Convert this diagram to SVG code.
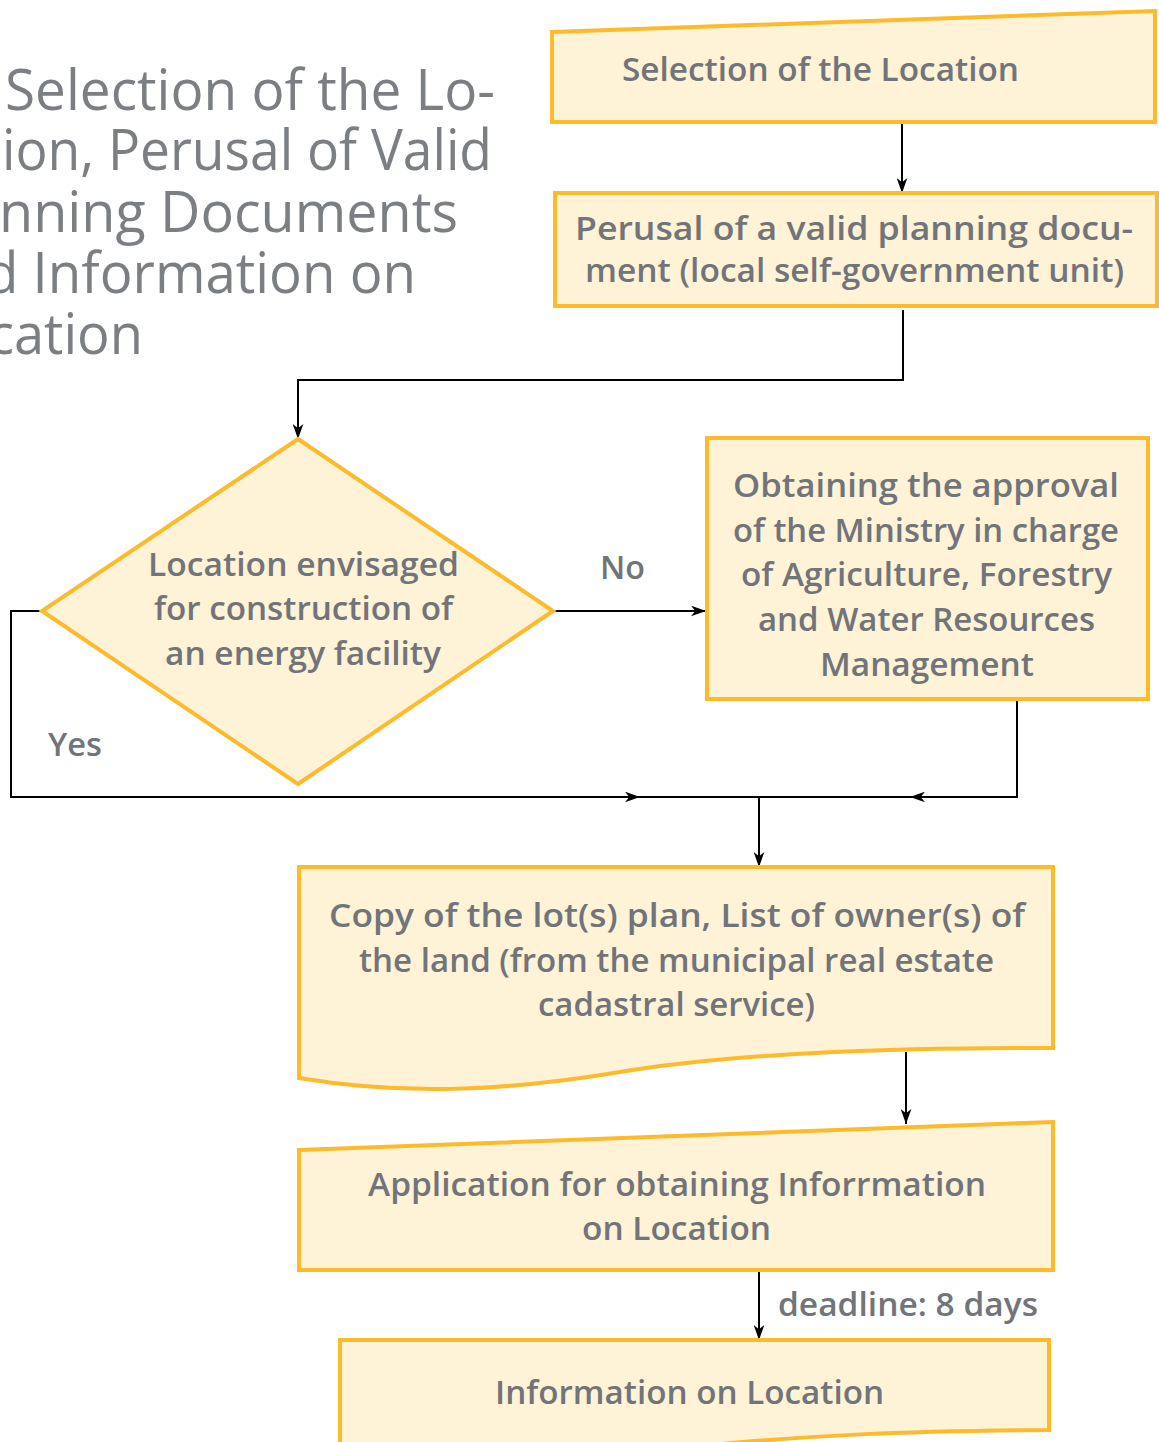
<svg xmlns="http://www.w3.org/2000/svg" width="1159" height="1442" viewBox="0 0 1159 1442">
<style>
.shape{fill:#FEF2D7;stroke:#FDBA2B;stroke-width:4;}
.t{font-family:"Open Sans","Liberation Sans",sans-serif;font-weight:600;font-size:32px;fill:#717479;}
.title{font-family:"Open Sans","Liberation Sans",sans-serif;font-weight:400;font-size:56px;fill:#7B7E83;}
.c{fill:none;stroke:#000;stroke-width:2;}
</style>
<defs>
<marker id="ah" viewBox="0 0 14 10" refX="14" refY="5" markerWidth="15" markerHeight="11" markerUnits="userSpaceOnUse" orient="auto">
<path d="M0,0 L14,5 L0,10 L4,5 Z" fill="#000"/>
</marker>
</defs>
<rect width="1159" height="1442" fill="#fff"/>
<g id="title">
<text class="title" x="5" y="110" textLength="490" lengthAdjust="spacingAndGlyphs">Selection of the Lo-</text>
<text class="title" x="2" y="170" textLength="490" lengthAdjust="spacingAndGlyphs">ion, Perusal of Valid</text>
<text class="title" x="-1" y="232" textLength="459" lengthAdjust="spacingAndGlyphs">nning Documents</text>
<text class="title" x="-15" y="293" textLength="431" lengthAdjust="spacingAndGlyphs">d Information on</text>
<text class="title" x="-12" y="354" textLength="155" lengthAdjust="spacingAndGlyphs">cation</text>
</g>
<g id="connectors">
<path class="c" d="M902,122 V193" marker-end="url(#ah)"/>
<path class="c" d="M903,310 V380 H298 V439" marker-end="url(#ah)"/>
<path class="c" d="M553,611 H706" marker-end="url(#ah)"/>
<path class="c" d="M42,611 H11 V797 H640" marker-end="url(#ah)"/>
<path class="c" d="M640,797 H759"/>
<path class="c" d="M1017,699 V797 H910" marker-end="url(#ah)"/>
<path class="c" d="M910,797 H759"/>
<path class="c" d="M759,797 V867" marker-end="url(#ah)"/>
<path class="c" d="M906,1052 V1124" marker-end="url(#ah)"/>
<path class="c" d="M759,1270 V1340" marker-end="url(#ah)"/>
<text class="t" x="600" y="579" textLength="45" lengthAdjust="spacingAndGlyphs">No</text>
<text class="t" x="48" y="756" textLength="54" lengthAdjust="spacingAndGlyphs">Yes</text>
<text class="t" x="778" y="1316" textLength="260" lengthAdjust="spacingAndGlyphs">deadline: 8 days</text>
</g>
<g id="n1">
<polygon class="shape" points="552,32 1155,11 1155,122 552,122"/>
<text class="t" x="622" y="81" textLength="397" lengthAdjust="spacingAndGlyphs">Selection of the Location</text>
</g>
<g id="n2">
<rect class="shape" x="555" y="193" width="602" height="113"/>
<text class="t" x="575" y="240" textLength="558" lengthAdjust="spacingAndGlyphs">Perusal of a valid planning docu-</text>
<text class="t" x="585" y="282" textLength="539" lengthAdjust="spacingAndGlyphs">ment (local self-government unit)</text>
</g>
<g id="n3">
<polygon class="shape" points="298,439 553,611 298,784 42,611"/>
<text class="t" x="148" y="576" textLength="311" lengthAdjust="spacingAndGlyphs">Location envisaged</text>
<text class="t" x="154" y="620" textLength="299" lengthAdjust="spacingAndGlyphs">for construction of</text>
<text class="t" x="165" y="665" textLength="276" lengthAdjust="spacingAndGlyphs">an energy facility</text>
</g>
<g id="n4">
<rect class="shape" x="707" y="438" width="441" height="261"/>
<text class="t" x="733" y="497" textLength="386" lengthAdjust="spacingAndGlyphs">Obtaining the approval</text>
<text class="t" x="733" y="542" textLength="386" lengthAdjust="spacingAndGlyphs">of the Ministry in charge</text>
<text class="t" x="741" y="586" textLength="371" lengthAdjust="spacingAndGlyphs">of Agriculture, Forestry</text>
<text class="t" x="758" y="631" textLength="337" lengthAdjust="spacingAndGlyphs">and Water Resources</text>
<text class="t" x="820" y="676" textLength="214" lengthAdjust="spacingAndGlyphs">Management</text>
</g>
<g id="n5">
<path class="shape" d="M299,867 H1053 V1048 C900,1048 740,1052 620,1072 C500,1092 400,1095 299,1078 Z"/>
<text class="t" x="329" y="927" textLength="696" lengthAdjust="spacingAndGlyphs">Copy of the lot(s) plan, List of owner(s) of</text>
<text class="t" x="359" y="972" textLength="635" lengthAdjust="spacingAndGlyphs">the land (from the municipal real estate</text>
<text class="t" x="538" y="1016" textLength="277" lengthAdjust="spacingAndGlyphs">cadastral service)</text>
</g>
<g id="n6">
<polygon class="shape" points="299,1150 1053,1122 1053,1270 299,1270"/>
<text class="t" x="368" y="1196" textLength="618" lengthAdjust="spacingAndGlyphs">Application for obtaining Inforrmation</text>
<text class="t" x="582" y="1240" textLength="189" lengthAdjust="spacingAndGlyphs">on Location</text>
</g>
<g id="n7">
<path class="shape" d="M340,1340 H1049 V1430 C900,1431 800,1436 700,1446 C600,1456 450,1460 340,1450 Z"/>
<text class="t" x="495" y="1404" textLength="389" lengthAdjust="spacingAndGlyphs">Information on Location</text>
</g>
</svg>
